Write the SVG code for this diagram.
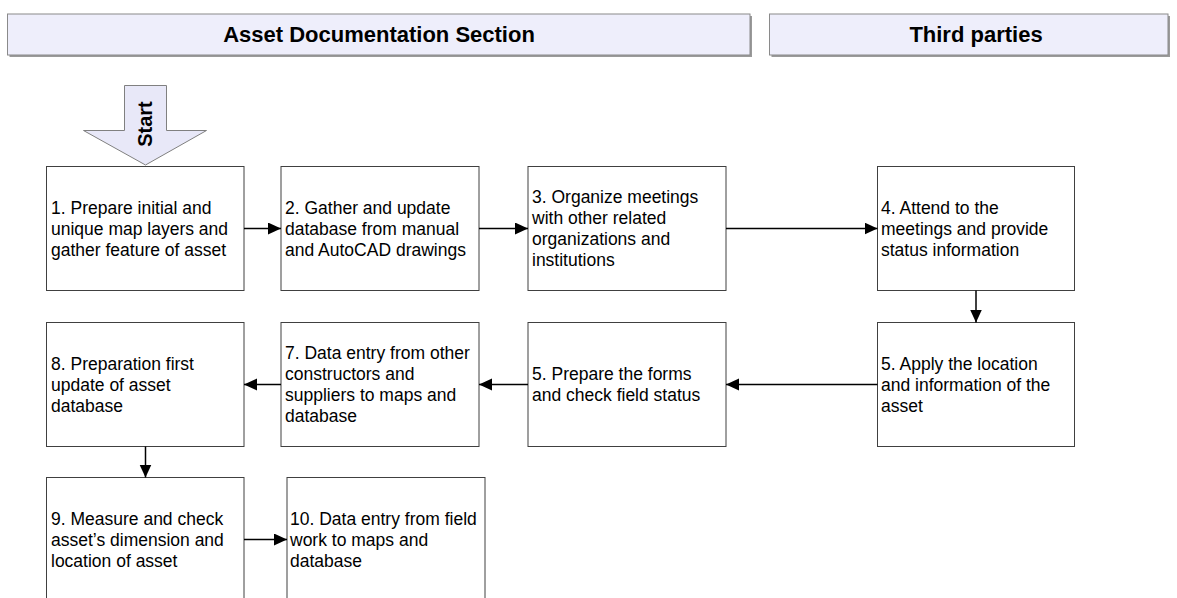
<svg xmlns="http://www.w3.org/2000/svg" width="1177" height="598" viewBox="0 0 1177 598">
<defs>
<style>
.hdr{fill:#EEEEFB;stroke:#8a8a8a;stroke-width:1}
.shd{fill:#9a9a9a}
.htxt{font-family:"Liberation Sans",Arial,sans-serif;font-weight:bold;font-size:22px;fill:#000;text-anchor:middle}
.box{fill:#fff;stroke:#404040;stroke-width:1}
.txt{font-family:"Liberation Sans",Arial,sans-serif;font-size:17.5px;fill:#000}
.conn{stroke:#000;stroke-width:1.5;fill:none;marker-end:url(#ah)}
</style>
<marker id="ah" markerUnits="userSpaceOnUse" markerWidth="14" markerHeight="14" refX="13" refY="6" orient="auto">
<path d="M0,0 L13,6 L0,12 Z" fill="#000"/>
</marker>
</defs>
<rect width="1177" height="598" fill="#fff"/>

<g id="header-asset">
<rect class="shd" x="9.5" y="16" width="742.5" height="41"/>
<rect class="hdr" x="7.5" y="14" width="742.5" height="41"/>
<text class="htxt" x="379" y="42">Asset Documentation Section</text>
</g>
<g id="header-third">
<rect class="shd" x="771.5" y="16" width="398.5" height="41"/>
<rect class="hdr" x="769.5" y="14" width="398.5" height="41"/>
<text class="htxt" x="976" y="42">Third parties</text>
</g>

<g id="start">
<path d="M124.5,85.5 L166.5,85.5 L166.5,130.5 L206.5,130.5 L145.5,165 L83.5,130.5 L124.5,130.5 Z" fill="#E8E8F8" stroke="#808080" stroke-width="1"/>
<text transform="translate(152,124) rotate(-90)" font-family="Liberation Sans, Arial, sans-serif" font-weight="bold" font-size="20" text-anchor="middle">Start</text>
</g>

<g id="node1">
<rect class="box" x="46.5" y="166.5" width="197.5" height="124"/>
<text class="txt" x="51" y="214">1. Prepare initial and</text>
<text class="txt" x="51" y="235">unique map layers and</text>
<text class="txt" x="51" y="256">gather feature of asset</text>
</g>
<g id="node2">
<rect class="box" x="281" y="166.5" width="198" height="124"/>
<text class="txt" x="285" y="214">2. Gather and update</text>
<text class="txt" x="285" y="235">database from manual</text>
<text class="txt" x="285" y="256">and AutoCAD drawings</text>
</g>
<g id="node3">
<rect class="box" x="528" y="166.5" width="198" height="124"/>
<text class="txt" x="532" y="203">3. Organize meetings</text>
<text class="txt" x="532" y="224">with other related</text>
<text class="txt" x="532" y="245">organizations and</text>
<text class="txt" x="532" y="266">institutions</text>
</g>
<g id="node4">
<rect class="box" x="877.5" y="166.5" width="197" height="124"/>
<text class="txt" x="881" y="214">4. Attend to the</text>
<text class="txt" x="881" y="235">meetings and provide</text>
<text class="txt" x="881" y="256">status information</text>
</g>
<g id="node5a">
<rect class="box" x="877.5" y="322.5" width="197" height="124"/>
<text class="txt" x="881" y="370">5. Apply the location</text>
<text class="txt" x="881" y="391">and information of the</text>
<text class="txt" x="881" y="412">asset</text>
</g>
<g id="node5b">
<rect class="box" x="528" y="322.5" width="198" height="124"/>
<text class="txt" x="532" y="380">5. Prepare the forms</text>
<text class="txt" x="532" y="401">and check field status</text>
</g>
<g id="node7">
<rect class="box" x="281" y="322.5" width="198" height="124"/>
<text class="txt" x="285" y="359">7. Data entry from other</text>
<text class="txt" x="285" y="380">constructors and</text>
<text class="txt" x="285" y="401">suppliers to maps and</text>
<text class="txt" x="285" y="422">database</text>
</g>
<g id="node8">
<rect class="box" x="46.5" y="322.5" width="197.5" height="124"/>
<text class="txt" x="51" y="370">8. Preparation first</text>
<text class="txt" x="51" y="391">update of asset</text>
<text class="txt" x="51" y="412">database</text>
</g>
<g id="node9">
<rect class="box" x="46.5" y="477.5" width="197.5" height="124"/>
<text class="txt" x="51" y="525">9. Measure and check</text>
<text class="txt" x="51" y="546">asset’s dimension and</text>
<text class="txt" x="51" y="567">location of asset</text>
</g>
<g id="node10">
<rect class="box" x="287" y="477.5" width="198" height="124"/>
<text class="txt" x="290" y="525">10. Data entry from field</text>
<text class="txt" x="290" y="546">work to maps and</text>
<text class="txt" x="290" y="567">database</text>
</g>

<g id="connectors">
<line class="conn" x1="244" y1="228.5" x2="281" y2="228.5"/>
<line class="conn" x1="479" y1="228.5" x2="528" y2="228.5"/>
<line class="conn" x1="726" y1="228.5" x2="877.5" y2="228.5"/>
<line class="conn" x1="976" y1="290.5" x2="976" y2="322.5"/>
<line class="conn" x1="877.5" y1="384.5" x2="726" y2="384.5"/>
<line class="conn" x1="528" y1="384.5" x2="479" y2="384.5"/>
<line class="conn" x1="281" y1="384.5" x2="244" y2="384.5"/>
<line class="conn" x1="145.5" y1="446.5" x2="145.5" y2="477.5"/>
<line class="conn" x1="244" y1="539.5" x2="287" y2="539.5"/>
</g>
</svg>
